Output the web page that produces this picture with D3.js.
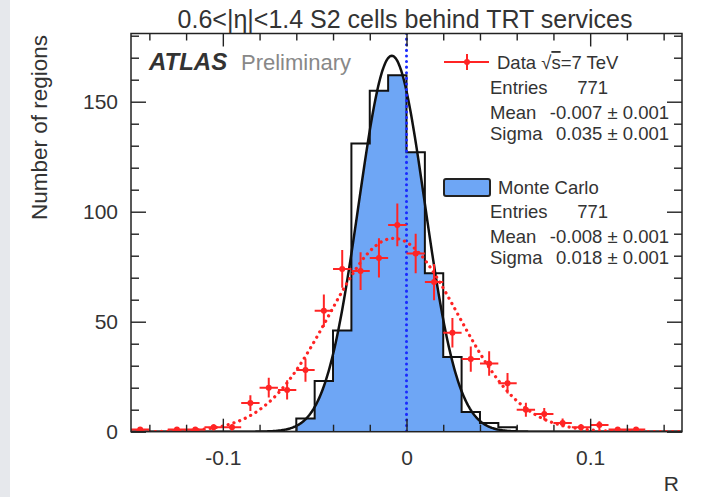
<!DOCTYPE html>
<html><head><meta charset="utf-8">
<script src="https://cdn.jsdelivr.net/npm/d3@7"></script>
<style>
html,body{margin:0;padding:0;background:#fff;}
svg{display:block;font-family:"Liberation Sans",Arial,Helvetica,sans-serif;}
</style></head><body>
<svg id="chart" width="704" height="497"></svg>
<script>
// Data histogram: bin centres (width 0.01) and counts
const binCenters = [-0.145,-0.135,-0.125,-0.115,-0.105,-0.095,-0.085,-0.075,-0.065,-0.055,
                    -0.045,-0.035,-0.025,-0.015,-0.005,0.005,0.015,0.025,0.035,0.045,
                    0.055,0.065,0.075,0.085,0.095,0.105,0.115,0.125,0.135,0.145];
const dataCounts = [1,0,1,1,2,2,13,20,19,28,
                    55,74,73,79,94,81,68,45,33,31,
                    22,10,8,4,2,3,1,1,0,0];
// Monte Carlo histogram: bin low edges and counts
const mcBinLow = [-0.15,-0.14,-0.13,-0.12,-0.11,-0.10,-0.09,-0.08,-0.07,-0.06,
                  -0.05,-0.04,-0.03,-0.02,-0.01,0.00,0.01,0.02,0.03,0.04,
                  0.05,0.06,0.07,0.08,0.09,0.10,0.11,0.12,0.13,0.14];
const mcCounts = [0,0,0,0,0,0,0,0,0,6,
                  23,46,131,155,162,127,72,34,9,4,
                  2,0,0,0,0,0,0,0,0,0];
const binWidth = 0.01;
const entries = 771;
// Gaussian fit results
const dataMean = -0.007, dataSigma = 0.035;
const mcMean = -0.008, mcSigma = 0.018;
// Axis ticks
const xTickValues = [-0.1, 0, 0.1];
const xTickLabels = ["-0.1", "0", "0.1"];
const yTickValues = [0, 50, 100, 150];
const yTickLabels = ["0", "50", "100", "150"];

const svg = d3.select("#chart");
const W = 704, H = 497;
const L = 131, R = 682, T = 33.5, B = 431.7;

svg.append("rect").attr("x", 0).attr("y", 0).attr("width", W).attr("height", H).attr("fill", "#fff");
svg.append("rect").attr("x", 0).attr("y", 0).attr("width", 10).attr("height", H).attr("fill", "#e6e8ec");

const x = d3.scaleLinear().domain([-0.15, 0.15]).range([L, R]);
const y = d3.scaleLinear().domain([0, 181]).range([B, T]);

const gauss = (mean, sigma) => v => entries * binWidth / (sigma * Math.sqrt(2 * Math.PI)) *
  Math.exp(-0.5 * ((v - mean) / sigma) ** 2);
const fitData = gauss(dataMean, dataSigma);
const fitMC = gauss(mcMean, mcSigma);
const samples = d3.range(0, 601).map(i => -0.15 + i * 0.3 / 600);

const defs = svg.append("defs");
defs.append("clipPath").attr("id", "plotClip").append("rect")
  .attr("x", L).attr("y", T).attr("width", R - L).attr("height", B - T);
// fill region limited to the area under the MC fit
defs.append("clipPath").attr("id", "underFit").append("path")
  .attr("d", d3.area().x(d => x(d)).y0(B).y1(d => y(fitMC(d)))(samples));

const plot = svg.append("g").attr("clip-path", "url(#plotClip)");

// MC histogram as step points
const stepPts = mcBinLow.map((lo, i) => [lo, mcCounts[i]]);
stepPts.push([mcBinLow[mcBinLow.length - 1] + binWidth, mcCounts[mcCounts.length - 1]]);

plot.append("path")
  .attr("clip-path", "url(#underFit)")
  .attr("d", d3.area().curve(d3.curveStepAfter).x(d => x(d[0])).y0(B).y1(d => y(d[1]))(stepPts))
  .attr("fill", "#6ea6f5");

plot.append("path")
  .attr("d", d3.line().curve(d3.curveStepAfter).x(d => x(d[0])).y(d => y(d[1]))(stepPts))
  .attr("fill", "none").attr("stroke", "#111").attr("stroke-width", 2);

// MC fit
plot.append("path")
  .attr("d", d3.line().x(d => x(d)).y(d => y(fitMC(d)))(samples))
  .attr("fill", "none").attr("stroke", "#111").attr("stroke-width", 2.5);

// vertical reference at R = 0
plot.append("line")
  .attr("x1", x(0)).attr("x2", x(0)).attr("y1", T).attr("y2", B)
  .attr("stroke", "#1a2aff").attr("stroke-width", 3)
  .attr("stroke-dasharray", "0.1,5.5").attr("stroke-linecap", "round");

// data fit
plot.append("path")
  .attr("d", d3.line().x(d => x(d)).y(d => y(fitData(d)))(samples))
  .attr("fill", "none").attr("stroke", "#ff2424").attr("stroke-width", 3.2)
  .attr("stroke-dasharray", "0.1,6").attr("stroke-linecap", "round");

// data points with errors
const red = "#ff2424";
const pts = plot.append("g");
binCenters.forEach((c, i) => {
  const n = dataCounts[i];
  if (n <= 0) return;
  const e = Math.sqrt(n);
  pts.append("line").attr("x1", x(c - binWidth / 2)).attr("x2", x(c + binWidth / 2))
    .attr("y1", y(n)).attr("y2", y(n)).attr("stroke", red).attr("stroke-width", 2);
  pts.append("line").attr("x1", x(c)).attr("x2", x(c))
    .attr("y1", y(n - e)).attr("y2", y(n + e)).attr("stroke", red).attr("stroke-width", 2);
  pts.append("circle").attr("cx", x(c)).attr("cy", y(n)).attr("r", 3).attr("fill", red);
});

// frame and ticks
const axisCol = "#222";
const yMinor = d3.range(0, 181, 10).filter(v => !yTickValues.includes(v));
const xMinor = d3.range(-14, 15, 2).map(v => v / 100).filter(v => !xTickValues.some(t => Math.abs(t - v) < 1e-9));

function tickGroup(axis, tx, ty) {
  const g = svg.append("g").attr("transform", `translate(${tx},${ty})`).call(axis);
  g.select(".domain").remove();
  g.selectAll(".tick line").attr("stroke", axisCol).attr("stroke-width", 1.4);
  return g;
}
const xb = tickGroup(d3.axisBottom(x).tickValues(xTickValues).tickSize(-13)
  .tickFormat((d, i) => xTickLabels[i]).tickPadding(18), 0, B);
xb.selectAll("text").attr("font-size", 21).attr("fill", "#333").attr("font-family", "Liberation Sans, Arial, sans-serif");
tickGroup(d3.axisBottom(x).tickValues(xMinor).tickSize(-7).tickFormat(""), 0, B);
tickGroup(d3.axisTop(x).tickValues(xTickValues).tickSize(-13).tickFormat(""), 0, T);
tickGroup(d3.axisTop(x).tickValues(xMinor).tickSize(-7).tickFormat(""), 0, T);
const yl = tickGroup(d3.axisLeft(y).tickValues(yTickValues).tickSize(-15)
  .tickFormat((d, i) => yTickLabels[i]).tickPadding(13), L, 0);
yl.selectAll("text").attr("font-size", 21).attr("fill", "#333").attr("font-family", "Liberation Sans, Arial, sans-serif");
tickGroup(d3.axisLeft(y).tickValues(yMinor).tickSize(-8).tickFormat(""), L, 0);
tickGroup(d3.axisRight(y).tickValues(yTickValues).tickSize(-15).tickFormat(""), R, 0);
tickGroup(d3.axisRight(y).tickValues(yMinor).tickSize(-8).tickFormat(""), R, 0);

svg.append("rect").attr("x", L).attr("y", T).attr("width", R - L).attr("height", B - T)
  .attr("fill", "none").attr("stroke", axisCol).attr("stroke-width", 1.5);

// titles
svg.append("text").attr("x", 405).attr("y", 28).attr("text-anchor", "middle")
  .attr("font-size", 25).attr("fill", "#333").text("0.6<|η|<1.4 S2 cells behind TRT services");
svg.append("text").attr("transform", "translate(47,35) rotate(-90)").attr("text-anchor", "end")
  .attr("font-size", 22.5).attr("fill", "#333").text("Number of regions");
svg.append("text").attr("x", 679).attr("y", 491).attr("text-anchor", "end")
  .attr("font-size", 21).attr("fill", "#333").text("R");

svg.append("text").attr("x", 149).attr("y", 70).attr("font-size", 24).attr("font-weight", "bold")
  .attr("font-style", "italic").attr("fill", "#333").text("ATLAS");
svg.append("text").attr("x", 241).attr("y", 70).attr("font-size", 22).attr("fill", "#888").text("Preliminary");

// legend
const lg = svg.append("g").attr("font-size", 18.5).attr("fill", "#333");
lg.append("line").attr("x1", 444).attr("x2", 489).attr("y1", 62).attr("y2", 62).attr("stroke", red).attr("stroke-width", 2);
lg.append("line").attr("x1", 467).attr("x2", 467).attr("y1", 54).attr("y2", 70).attr("stroke", red).attr("stroke-width", 2);
lg.append("circle").attr("cx", 467).attr("cy", 62).attr("r", 3).attr("fill", red);
const dt = lg.append("text").attr("x", 497).attr("y", 69);
dt.append("tspan").text("Data √");
dt.append("tspan").attr("text-decoration", "overline").text("s");
dt.append("tspan").text("=7 TeV");

lg.append("rect").attr("x", 444).attr("y", 179).attr("width", 46).attr("height", 17).attr("rx", 2)
  .attr("fill", "#6ea6f5").attr("stroke", "#222").attr("stroke-width", 2);
lg.append("text").attr("x", 498).attr("y", 194).text("Monte Carlo");

function statRows(y0, mean, sigma) {
  const rows = [["Entries", String(entries), 608, 0], ["Mean", mean, 669, 25], ["Sigma", sigma, 669, 46]];
  rows.forEach(r => {
    lg.append("text").attr("x", 490).attr("y", y0 + r[3]).text(r[0]);
    lg.append("text").attr("x", r[2]).attr("y", y0 + r[3]).attr("text-anchor", "end").text(r[1]);
  });
}
statRows(94, "-0.007 ± 0.001", "0.035 ± 0.001");
statRows(218, "-0.008 ± 0.001", "0.018 ± 0.001");
</script>
</body></html>
